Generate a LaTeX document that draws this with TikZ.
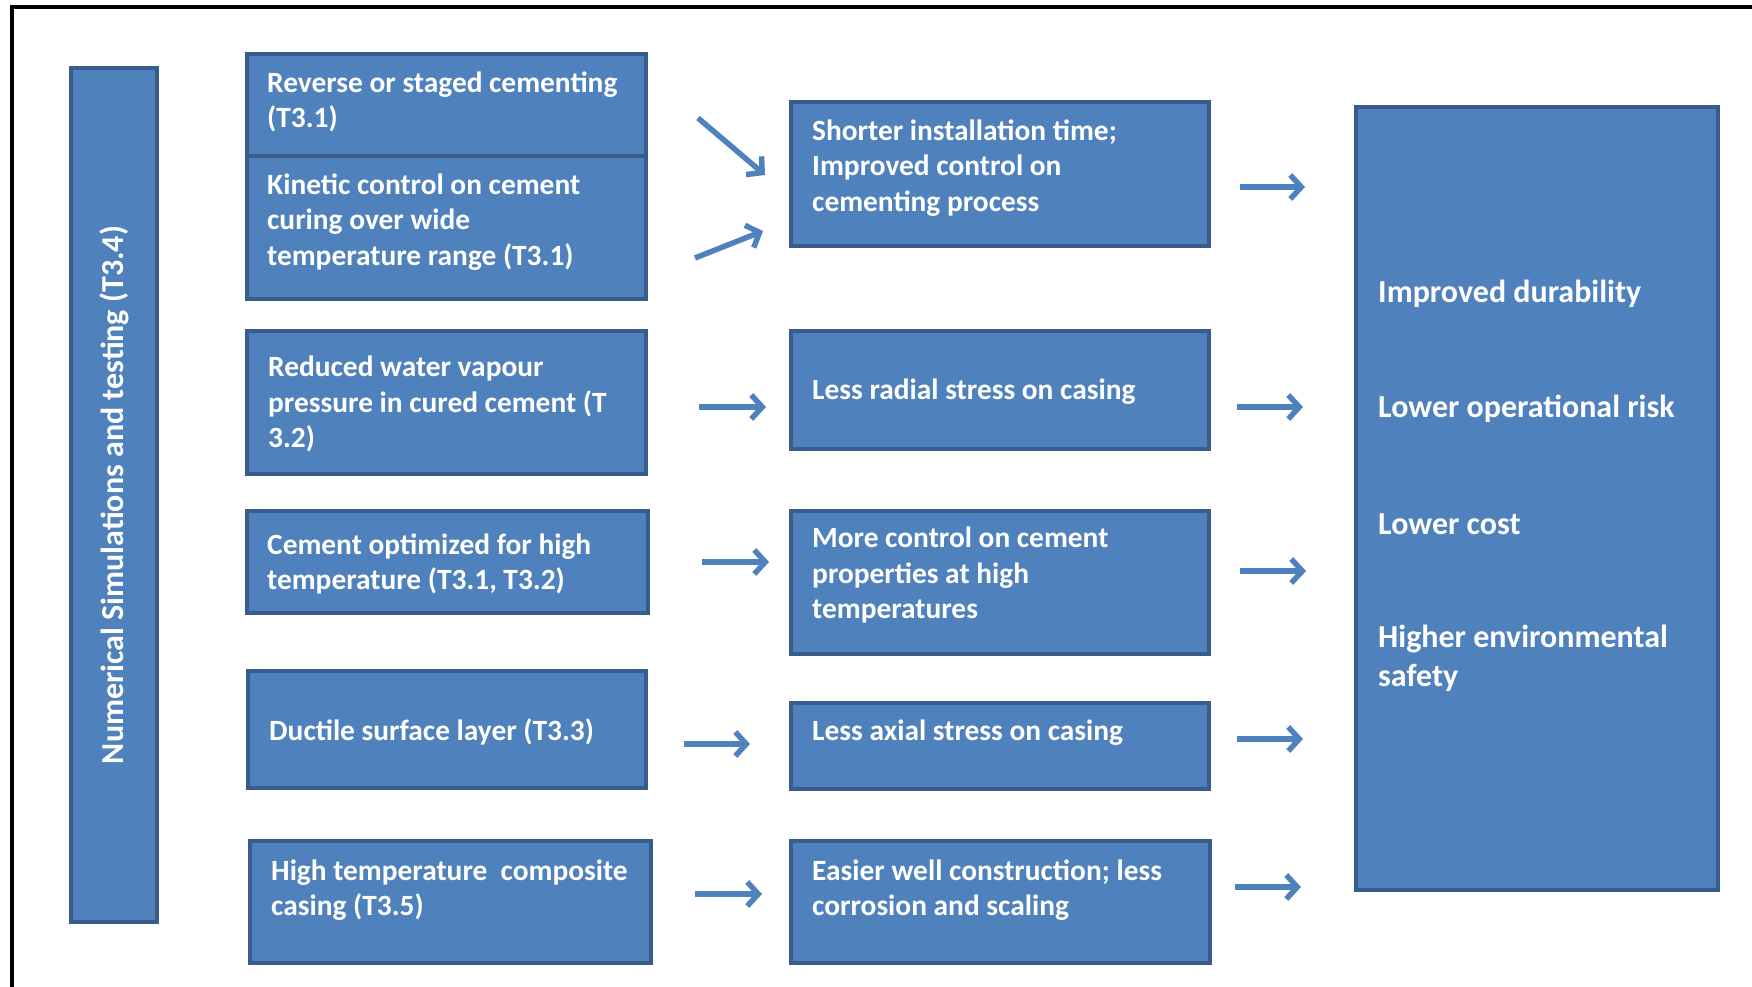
\documentclass[tikz,border=0pt]{standalone}
\usepackage{fontspec}
\setmainfont{Carlito}
\usetikzlibrary{arrows.meta,calc}
\definecolor{boxfill}{HTML}{4F81BD}
\definecolor{boxline}{HTML}{385D8A}
\begin{document}
\begin{tikzpicture}[x=1pt,y=-1pt,
  box/.style={draw=boxline, fill=boxfill, line width=3.5pt, rectangle, anchor=north west, inner sep=0pt, outer sep=0pt},
  txt/.style={text=white, font=\fontsize{29.4}{35.5}\selectfont\bfseries, align=left, anchor=west, inner sep=0pt},
  bigtxt/.style={txt, font=\fontsize{32}{39}\selectfont\bfseries},
  vtxt/.style={txt, font=\fontsize{32}{39}\selectfont\bfseries, anchor=center, rotate=90},
  arr/.style={draw=boxfill, line width=5.5pt, -{Straight Barb[length=11pt, width=24pt, line width=5.5pt]}}]
\useasboundingbox (0,0) rectangle (1752,987);
\draw[line width=4pt] (12,987) -- (12,7) -- (1752,7);

% left vertical box
\node[box, minimum width=86pt, minimum height=854pt] (v) at (71,68) {};
\node[vtxt] (vt) at (v.center) {Numerical Simulations and testing (T3.4)};

% left column
\node[box, minimum width=399pt, minimum height=102pt] (a1) at (247,54) {};
\node[box, minimum width=399pt, minimum height=143pt] (a2) at (247,156) {};
\node[box, minimum width=399pt, minimum height=143pt] (b) at (247,331) {};
\node[box, minimum width=401pt, minimum height=102pt] (c) at (247,511) {};
\node[box, minimum width=398pt, minimum height=117pt] (d) at (248,671) {};
\node[box, minimum width=401pt, minimum height=122pt] (e) at (250,841) {};

\node[txt] (a1t) at (267,102) {Reverse or staged cementing\\(T3.1)};
\node[txt] (a2t) at (267,222) {Kinetic control on cement\\curing over wide\\temperature range (T3.1)};
\node[txt] (bt) at (268,404) {Reduced water vapour\\pressure in cured cement (T\\3.2)};
\node[txt] (ct) at (267,564) {Cement optimized for high\\temperature (T3.1, T3.2)};
\node[txt] (dt) at (269,732) {Ductile surface layer (T3.3)};
\node[txt] (et) at (271,890) {High temperature~ composite\\casing (T3.5)};

% middle column
\node[box, minimum width=418pt, minimum height=144pt] (m1) at (791,102) {};
\node[box, minimum width=418pt, minimum height=118pt] (m2) at (791,331) {};
\node[box, minimum width=418pt, minimum height=143pt] (m3) at (791,511) {};
\node[box, minimum width=418pt, minimum height=86pt] (m4) at (791,703) {};
\node[box, minimum width=419pt, minimum height=122pt] (m5) at (791,841) {};

\node[txt] (m1t) at (812,168) {Shorter installation time;\\Improved control on\\cementing process};
\node[txt] (m2t) at (812,392) {Less radial stress on casing};
\node[txt] (m3t) at (812,575) {More control on cement\\properties at high\\temperatures};
\node[txt] (m4t) at (812,733) {Less axial stress on casing};
\node[txt] (m5t) at (812,890) {Easier well construction; less\\corrosion and scaling};

% right box
\node[box, minimum width=362pt, minimum height=783pt] (r) at (1356,107) {};
\node[bigtxt] (r1) at (1378,294) {Improved durability};
\node[bigtxt] (r2) at (1378,409) {Lower operational risk};
\node[bigtxt] (r3) at (1378,524) {Lower cost};
\node[bigtxt] (r4) at (1378,658) {Higher environmental\\safety};

% arrows
\draw[arr] ($(a1.east)+(52,13)$) -- ($(m1.west)+(-26,1)$);
\draw[arr] ($(a2.east)+(49,30.5)$) -- ($(m1.west)+(-28,57)$);
\draw[arr] ($(m1.east)+(31,13)$) -- ($(m1.east -| r.west)+(-51,13)$);
\draw[arr] ($(b.east)+(53,4.5)$) -- ($(b.east -| m2.west)+(-25,4.5)$);
\draw[arr] ($(m2.east)+(28,17)$) -- ($(m2.east -| r.west)+(-53,17)$);
\draw[arr] ($(c.east)+(54,0)$) -- ($(c.east -| m3.west)+(-22,0)$);
\draw[arr] ($(m3.east)+(31,-11.5)$) -- ($(m3.east -| r.west)+(-50,-11.5)$);
\draw[arr] ($(d.east)+(38,14.5)$) -- ($(d.east -| m4.west)+(-41,14.5)$);
\draw[arr] ($(m4.east)+(28,-7)$) -- ($(m4.east -| r.west)+(-53,-7)$);
\draw[arr] ($(e.east)+(44,-8)$) -- ($(e.east -| m5.west)+(-29,-8)$);
\draw[arr] ($(m5.east)+(25,-15)$) -- ($(m5.east -| r.west)+(-55,-15)$);
\end{tikzpicture}
\end{document}
